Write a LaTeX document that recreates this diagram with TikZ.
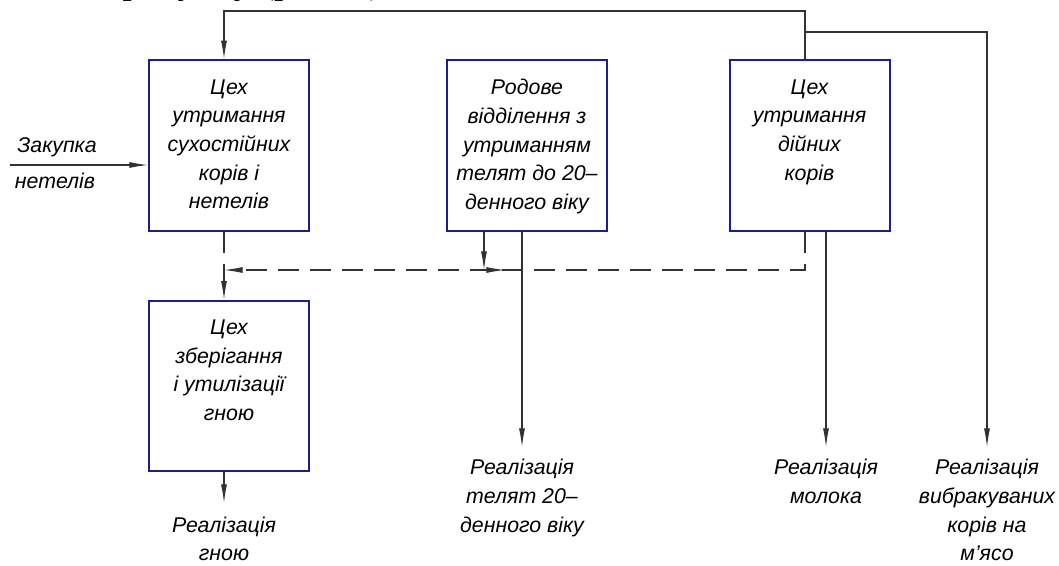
\documentclass[tikz,border=0pt]{standalone}
\usepackage{fontspec}
\setmainfont{Liberation Sans}
\newfontfamily\serifcap{Liberation Serif}
\usepackage{tikz}
\usetikzlibrary{arrows.meta, positioning}
\definecolor{cehblue}{RGB}{28,28,150}
\definecolor{flowgray}{RGB}{50,50,50}

\begin{document}
\begin{tikzpicture}[x=0.75pt,y=-0.75pt,
    >={Latex[length=14pt,width=4.5pt]},
    ceh/.style={draw=cehblue,line width=1.5pt,fill=white,minimum width=120pt,minimum height=128pt,inner sep=0pt},
    txt/.style={font=\itshape\fontsize{16}{21.5}\selectfont,align=center,inner sep=0pt},
    flow/.style={flowgray,line width=0.8pt},
    dashflow/.style={flow,dash pattern=on 16pt off 8pt}]
    \useasboundingbox (0,0) rectangle (1059,565);
    \node[font=\serifcap\fontsize{28}{30}\selectfont,anchor=base west] (cap) at (118,-7) {рисунку (рис. 1)};

    \node[ceh] (b1) at (229,145.5) {};
    \node[ceh] (b2) at (527,145.5) {};
    \node[ceh] (b3) at (809.5,145.5) {};
    \node[ceh] (b4) at (229,386) {};
    \node[txt,below=15pt of b1.north] (t1) {Цех\\утримання\\сухостійних\\корів і\\нетелів};
    \node[txt,below=15pt of b2.north] (t2) {Родове\\відділення з\\утриманням\\телят до 20–\\денного віку};
    \node[txt,below=15pt of b3.north] (t3) {Цех\\утримання\\дійних\\корів};
    \node[txt,below=15pt of b4.north] (t4) {Цех\\зберігання\\і утилізації\\гною};

    \coordinate (ra) at (224,11);
    \coordinate (rc) at (805,11);
    \coordinate (br) at (805,32);
    \coordinate (rd) at (987,32);
    \coordinate (mid) at (224,270);
    \coordinate (kink) at (484,270);
    \coordinate (in) at (10,165);
    \coordinate (e1) at (522,447);
    \coordinate (e2) at (826,447);
    \coordinate (e3) at (987,447);
    \coordinate (e4) at (224,503);

    \node[txt,anchor=north] (zak) at (57,137) {Закупка};
    \node[txt,anchor=north] (net) at (55,173) {нетелів};
    \node[txt,below=9pt of e1] (r1) {Реалізація\\телят 20–\\денного віку};
    \node[txt,below=9pt of e2] (r2) {Реалізація\\молока};
    \node[txt,below=9pt of e3] (r3) {Реалізація\\вибракуваних\\корів на\\м’ясо};
    \node[txt,below=10pt of e4] (r4) {Реалізація\\гною};

    \draw[flow,->] (b3.north -| rc) -- (rc) -- (ra) -- (b1.north -| ra);
    \draw[flow,->] (br) -- (rd) -- (e3);
    \draw[flow,->] (in) -- (in -| b1.west);
    \draw[dashflow,->] (b1.south -| ra) -- (b4.north -| ra);
    \draw[dashflow,->] (b3.south -| rc) -- (rc |- mid) -- (mid);
    \draw[flow,->] (b2.south -| kink) -- (kink);
    \draw[flow,->] (kink) -- ++(21,0);
    \draw[flow,->] (b2.south -| e1) -- (e1);
    \draw[flow,->] (b3.south -| e2) -- (e2);
    \draw[flow,->] (b4.south -| e4) -- (e4);
\end{tikzpicture}
\end{document}
